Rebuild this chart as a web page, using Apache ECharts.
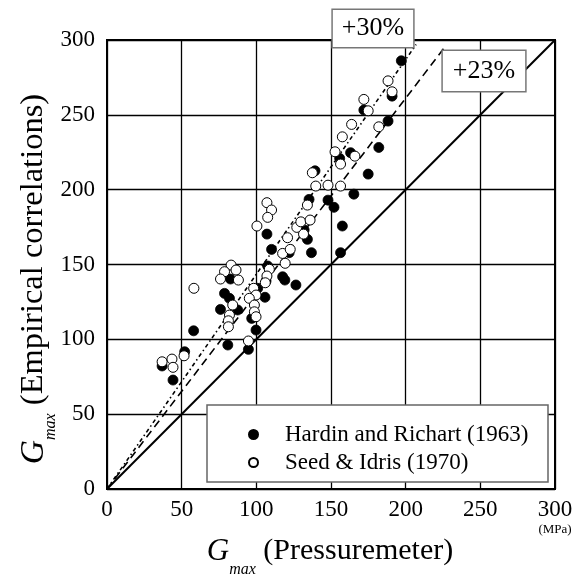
<!DOCTYPE html>
<html><head><meta charset="utf-8">
<script src="https://cdn.jsdelivr.net/npm/echarts@6/dist/echarts.min.js"></script>
<style>html,body{margin:0;padding:0;background:#fff}#c{width:582px;height:574px}</style>
</head><body><div id="c"></div>
<script>
// Tick values
const axisTicks = [0, 50, 100, 150, 200, 250, 300];
const unitLabel = '(MPa)';
const seriesNames = ['Hardin and Richart (1963)', 'Seed & Idris (1970)'];

// Hardin and Richart (1963): [Gmax pressuremeter, Gmax empirical]
const hardinRichart = [
  [36.9, 82.2], [44.2, 72.8], [52, 91.7], [58, 105.7], [76, 120], [78.7, 130.7],
  [82, 127.4], [82.7, 140.3], [80.9, 96.2], [87.5, 119.6], [94.7, 93.3], [96.9, 114],
  [99.8, 106.2], [100.9, 134.1], [105.8, 128.1], [106.5, 139], [107.6, 149], [117.6, 141.8],
  [119.1, 139.6], [126.5, 136.3], [107.1, 170.3], [110.2, 160.1], [122, 157.9], [132, 173.1],
  [134.2, 166.8], [136.9, 157.9], [135.3, 193.5], [139.3, 212.6], [148, 193], [152, 188.2],
  [156.4, 157.9], [157.6, 175.7], [165.3, 197], [155.8, 220.9], [163.1, 224.7], [174.9, 210.4],
  [182, 228.2], [172, 253.2], [188.2, 245.8], [190.9, 262.5], [197.1, 286.1]
];

// Seed & Idris (1970)
const seedIdris = [
  [36.9, 85], [43.5, 86.8], [44.2, 81.3], [51.6, 89], [58.2, 134.1], [83.1, 149.6],
  [78.7, 145.2], [86.4, 146.3], [76, 140.3], [88, 139.6], [84.2, 122.9], [82, 116.2],
  [81.3, 112.4], [81.3, 108.4], [98.2, 134.1], [99.8, 129.6], [95.3, 127.4], [98.7, 122.9],
  [98.7, 118.4], [99.8, 115.1], [94.7, 98.9], [108.7, 146.8], [119.3, 150.8], [107.1, 142.3],
  [106, 137.8], [107.1, 191.3], [110.2, 186.4], [107.6, 181.5], [100.4, 175.7], [117.6, 157.4],
  [122.7, 160.1], [120.9, 167.9], [127.1, 174.8], [129.8, 178.5], [131.6, 170.3], [136, 179.7],
  [134.2, 189.7], [137.5, 211.3], [139.8, 202.4], [148, 203], [156.4, 202.4], [152.7, 225.3],
  [156.4, 217.1], [157.6, 235.3], [163.8, 243.6], [166, 222.4], [182, 242], [172, 260.3],
  [174.9, 252.7], [188.2, 272.7], [190.9, 265.4]
];

// Reference lines
const lineEqual = [[0, 0], [300, 300]];
const lineDashed = [[0, 0], [226, 295]];
const lineDashDot = [[0, 0], [207, 297]];
const annotations = ['+30%', '+23%'];

const SERIF = '"Liberation Serif", "Times New Roman", serif';
const chart = echarts.init(document.getElementById('c'), null, {renderer: 'canvas'});

function axisCommon(margin, isX) {
  return {
    type: 'value', min: axisTicks[0], max: axisTicks[axisTicks.length - 1], interval: 50,
    axisLine: {show: true, onZero: false, lineStyle: {color: '#000', width: 2}},
    axisTick: {show: false},
    splitLine: {show: true, lineStyle: {color: '#000', width: 1.3}},
    axisLabel: {
      color: '#000', fontFamily: SERIF, fontSize: 23, margin: margin,
      showMinLabel: true, showMaxLabel: true,
      formatter: isX ? function (v) {
        return v === 300 ? '{a|' + v + '}\n{b|' + unitLabel + '}' : '{a|' + v + '}';
      } : null,
      rich: {
        a: {fontFamily: SERIF, fontSize: 23, color: '#000', lineHeight: 23},
        b: {fontFamily: SERIF, fontSize: 13, color: '#000', lineHeight: 16, padding: [2, 0, 0, 0]}
      }
    }
  };
}

function titleRich(size) {
  return {
    g: {fontFamily: SERIF, fontStyle: 'italic', fontSize: size + 1, fill: '#000', verticalAlign: 'top', lineHeight: 34},
    s: {fontFamily: SERIF, fontStyle: 'italic', fontSize: 16, fill: '#000', verticalAlign: 'top', lineHeight: 16, padding: [26, 0, 0, 0]},
    t: {fontFamily: SERIF, fontSize: size, fill: '#000', verticalAlign: 'top', lineHeight: 34}
  };
}

chart.setOption({
  animation: false,
  backgroundColor: '#fff',
  grid: {left: 107, right: 27, top: 40, bottom: 85, show: true, borderColor: '#000', borderWidth: 2},
  xAxis: axisCommon(9, true),
  yAxis: axisCommon(12, false),
  legend: {
    data: seriesNames, orient: 'vertical', left: 243, top: 418,
    itemWidth: 53, itemHeight: 9, itemGap: 5, icon: 'circle',
    textStyle: {fontFamily: SERIF, fontSize: 23, color: '#000', lineHeight: 23}
  },
  graphic: [
    {type: 'rect', z: 1, shape: {x: 207, y: 405, width: 341, height: 77},
     style: {fill: '#fff', stroke: '#666', lineWidth: 1.5}},
    {type: 'text', z: 10, x: 373, y: 28.5,
     style: {text: annotations[0], font: '26px ' + SERIF, fill: '#000', align: 'center', verticalAlign: 'middle',
             backgroundColor: '#fff', borderColor: '#777', borderWidth: 1.5, padding: [5, 9, 4, 9], lineHeight: 28}},
    {type: 'text', z: 10, x: 484, y: 71,
     style: {text: annotations[1], font: '26px ' + SERIF, fill: '#000', align: 'center', verticalAlign: 'middle',
             backgroundColor: '#fff', borderColor: '#777', borderWidth: 1.5, padding: [6, 10, 6, 10], lineHeight: 28}},
    {type: 'text', z: 10, x: 330, y: 553,
     style: {text: '{g|G}{s|max}{t| (Pressuremeter)}', rich: titleRich(30), align: 'center', verticalAlign: 'middle'}},
    {type: 'text', z: 10, x: 34, y: 279, rotation: Math.PI / 2,
     style: {text: '{g|G}{s|max}{t| (Empirical correlations)}', rich: titleRich(32.5), align: 'center', verticalAlign: 'middle'}}
  ],
  series: [
    {type: 'line', data: lineEqual, showSymbol: false, silent: true, z: 1,
     lineStyle: {color: '#000', width: 2}},
    {type: 'line', data: lineDashed, showSymbol: false, silent: true, z: 1,
     lineStyle: {color: '#000', width: 1.6, type: [8, 5]}},
    {type: 'line', data: lineDashDot, showSymbol: false, silent: true, z: 1,
     lineStyle: {color: '#000', width: 1.6, type: [4, 3, 1.5, 3]}},
    {name: seriesNames[0], type: 'scatter', data: hardinRichart, symbolSize: 10, z: 3,
     itemStyle: {color: '#000', borderColor: '#000', borderWidth: 0.8, opacity: 1}},
    {name: seriesNames[1], type: 'scatter', data: seedIdris, symbolSize: 10, z: 3,
     itemStyle: {color: '#fff', borderColor: '#000', borderWidth: 1, opacity: 1}}
  ]
});
</script>
</body></html>
